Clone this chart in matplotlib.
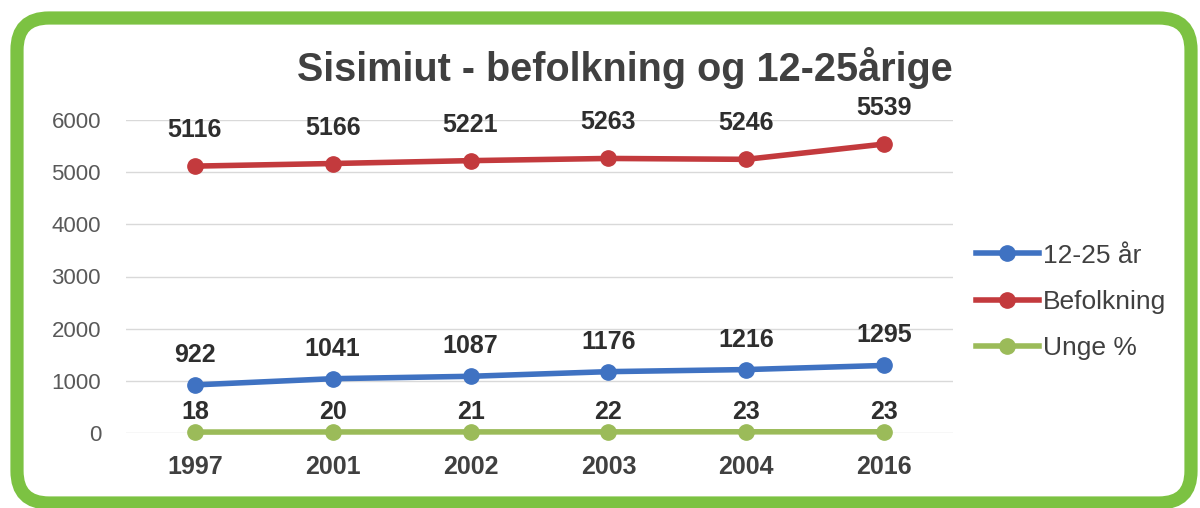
import matplotlib
matplotlib.use("Agg")
import matplotlib.pyplot as plt
from matplotlib.patches import FancyBboxPatch
from matplotlib.transforms import IdentityTransform

years = ["1997", "2001", "2002", "2003", "2004", "2016"]
unge_antal = [922, 1041, 1087, 1176, 1216, 1295]
befolkning = [5116, 5166, 5221, 5263, 5246, 5539]
unge_pct = [18, 20, 21, 22, 23, 23]
yticks = [0, 1000, 2000, 3000, 4000, 5000, 6000]

plt.rcParams['font.family'] = ['Liberation Sans', 'DejaVu Sans']

fig = plt.figure(figsize=(12, 5.08), dpi=100)
W, H = 1200, 508

# rounded green frame (pixel coordinates, origin bottom-left)
frame = FancyBboxPatch((17, H - 503), 1191 - 17, 503 - 18,
                       boxstyle="round,pad=0,rounding_size=32",
                       transform=IdentityTransform(), facecolor="white",
                       edgecolor="#7cc242", linewidth=9.5, zorder=-5)
fig.patches.append(frame)

ax = fig.add_axes([126 / W, 1 - 433 / H, (953 - 126) / W, (433 - 120) / H])
ax.set_facecolor("none")
x = list(range(len(years)))

blue, red, green = "#3f72c2", "#c33a3d", "#9bbb59"
ax.plot(x, unge_antal, color=blue, lw=4, marker="o", ms=11, label="12-25 år", clip_on=False, zorder=3)
ax.plot(x, befolkning, color=red, lw=4, marker="o", ms=11, label="Befolkning", clip_on=False, zorder=3)
ax.plot(x, unge_pct, color=green, lw=4, marker="o", ms=11, label="Unge %", clip_on=False, zorder=3)

def labels(vals, off):
    for xi, v in zip(x, vals):
        ax.annotate(str(v), (xi, v), xytext=(0, off), textcoords="offset pixels",
                    ha="center", va="center", fontsize=18, fontweight="bold",
                    color="#2e2e2e", annotation_clip=False)

labels(befolkning, 36)
labels(unge_antal, 30)
labels(unge_pct, 20)

ax.set_xlim(-0.5, len(years) - 0.5)
ax.set_ylim(0, 6000)
ax.set_yticks(yticks)
ax.set_yticklabels([str(t) for t in yticks], fontsize=16, color="#595959")
ax.set_xticks(x)
ax.set_xticklabels(years, fontsize=18, fontweight="bold", color="#404040")
ax.tick_params(axis="both", length=0)
ax.tick_params(axis="y", pad=18)
ax.tick_params(axis="x", pad=16)
ax.grid(axis="y", color="#d9d9d9", lw=1)
ax.set_axisbelow(True)
for s in ax.spines.values():
    s.set_visible(False)

fig.text(625 / W, 1 - 68 / H, "Sisimiut - befolkning og 12-25årige",
         ha="center", va="center", fontsize=28.5, fontweight="bold", color="#404040")

leg = ax.legend(loc="center left", bbox_to_anchor=(952 / W, 1 - 302 / H),
                bbox_transform=fig.transFigure, frameon=False, fontsize=19,
                handlelength=2.4, labelspacing=0.85, handletextpad=0.15)
for t in leg.get_texts():
    t.set_color("#404040")

fig.savefig("out.png", dpi=100)
